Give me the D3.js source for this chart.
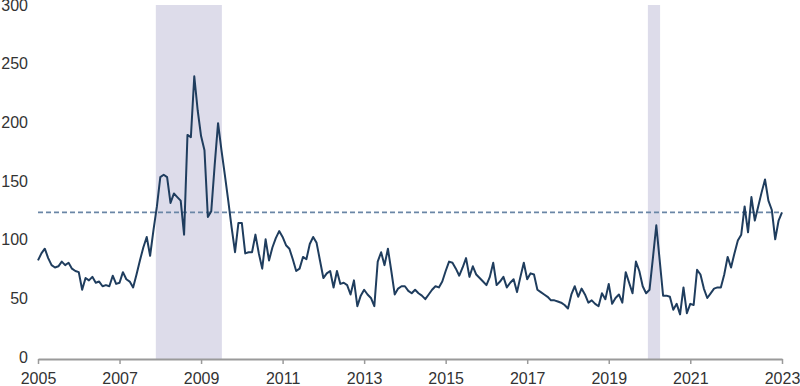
<!DOCTYPE html>
<html>
<head>
<meta charset="utf-8">
<script src="https://cdn.jsdelivr.net/npm/d3@7"></script>
<style>
	body { margin: 0; background: #fff; }
	#chart text { font-family: "Liberation Sans", Arial, sans-serif; font-size: 16px; fill: #333; }
</style>
</head>
<body>
<div id="chart"></div>
<script>
// Monthly values starting Jan 2005
const startYear = 2005;
const values = [
	84, 90, 94, 86, 80, 78, 79, 83, 80, 82, 77, 75,          // 2005
	74, 59, 69, 67, 70, 65, 66, 62, 63, 62, 71, 64,          // 2006
	65, 74, 68, 66, 61, 72, 84, 95, 104, 88, 110, 130,       // 2007
	155, 157, 155, 133, 141, 138, 135, 106, 191, 189, 241, 212, // 2008
	190, 178, 121, 126, 165, 201, 178, 157, 135, 112, 91, 116,  // 2009
	116, 90, 91, 91, 106, 90, 77, 102, 84, 95, 103, 109,     // 2010
	104, 97, 94, 85, 75, 77, 87, 85, 98, 104, 99, 84,        // 2011
	69, 73, 75, 61, 75, 64, 65, 63, 55, 67, 45, 54,          // 2012
	59, 55, 52, 45, 83, 91, 80, 94, 75, 55, 60, 62,          // 2013
	62, 58, 56, 59, 56, 54, 51, 55, 59, 62, 61, 66,          // 2014
	75, 83, 82, 77, 71, 78, 86, 70, 79, 72, 69, 66,          // 2015
	63, 70, 82, 63, 66, 70, 61, 65, 68, 57, 70, 82,          // 2016
	68, 73, 72, 59, 57, 55, 53, 50, 50, 49, 48, 46,          // 2017
	43, 55, 62, 53, 60, 55, 48, 50, 47, 45, 56, 51,          // 2018
	64, 47, 52, 55, 48, 74, 65, 56, 83, 75, 62, 56,          // 2019
	59, 86, 114, 84, 54, 54, 53, 42, 47, 38, 61, 39,         // 2020
	47, 46, 76, 72, 60, 52, 56, 60, 61, 61, 72, 87,          // 2021
	78, 90, 101, 106, 130, 108, 138, 118, 130, 142, 153, 135, // 2022
	127, 102, 118, 125                                       // 2023
];

const recessions = [[2007.89, 2009.51], [2019.96, 2020.26]];
const threshold = 125;
const yTicks = [0, 50, 100, 150, 200, 250, 300];
const xTicks = [2005, 2007, 2009, 2011, 2013, 2015, 2017, 2019, 2021, 2023.25];
const xTickLabels = ["2005", "2007", "2009", "2011", "2013", "2015", "2017", "2019", "2021", "2023"];

const width = 800, height = 386;

const svg = d3.select("#chart")
	.append("svg")
	.attr("width", width)
	.attr("height", height);

const x = d3.scaleLinear().domain([2005, 2023.25]).range([38, 782]);
const y = d3.scaleLinear().domain([0, 300]).range([359, 7]);

const series = values.map((v, i) => ({t: startYear + i / 12, v: v}));

// Recession shading
svg.selectAll("rect.rec")
	.data(recessions)
	.enter()
	.append("rect")
	.attr("class", "rec")
	.attr("x", d => x(d[0]))
	.attr("width", d => x(d[1]) - x(d[0]))
	.attr("y", y(300) - 2)
	.attr("height", y(0) - y(300) + 2)
	.style("fill", "#dddcea");

// Dashed reference line
svg.append("line")
	.attr("x1", x(2005))
	.attr("x2", x(2023.25))
	.attr("y1", y(threshold))
	.attr("y2", y(threshold))
	.style("stroke", "#6a86a6")
	.style("stroke-width", 1.6)
	.style("stroke-dasharray", "5,3");

// x axis
const xAxis = d3.axisBottom(x)
	.tickValues(xTicks)
	.tickSize(5)
	.tickSizeOuter(0)
	.tickPadding(9)
	.tickFormat((d, i) => xTickLabels[i]);

const gx = svg.append("g")
	.attr("transform", `translate(0,${y(0)})`)
	.call(xAxis);
gx.select(".domain").style("stroke", "#9a9a9a").style("stroke-width", 2);
gx.selectAll(".tick line").style("stroke", "#9a9a9a").style("stroke-width", 1.5);

// y labels, no axis line
svg.selectAll("text.ylab")
	.data(yTicks)
	.enter()
	.append("text")
	.attr("class", "ylab")
	.attr("x", 28)
	.attr("y", d => y(d) - 2)
	.attr("dy", "0.35em")
	.attr("text-anchor", "end")
	.text(d => d);

// The index line
const line = d3.line()
	.x(d => x(d.t))
	.y(d => y(d.v));

svg.append("path")
	.datum(series)
	.attr("d", line)
	.style("fill", "none")
	.style("stroke", "#1f3d5e")
	.style("stroke-width", 2)
	.style("stroke-linejoin", "round");
</script>
</body>
</html>
